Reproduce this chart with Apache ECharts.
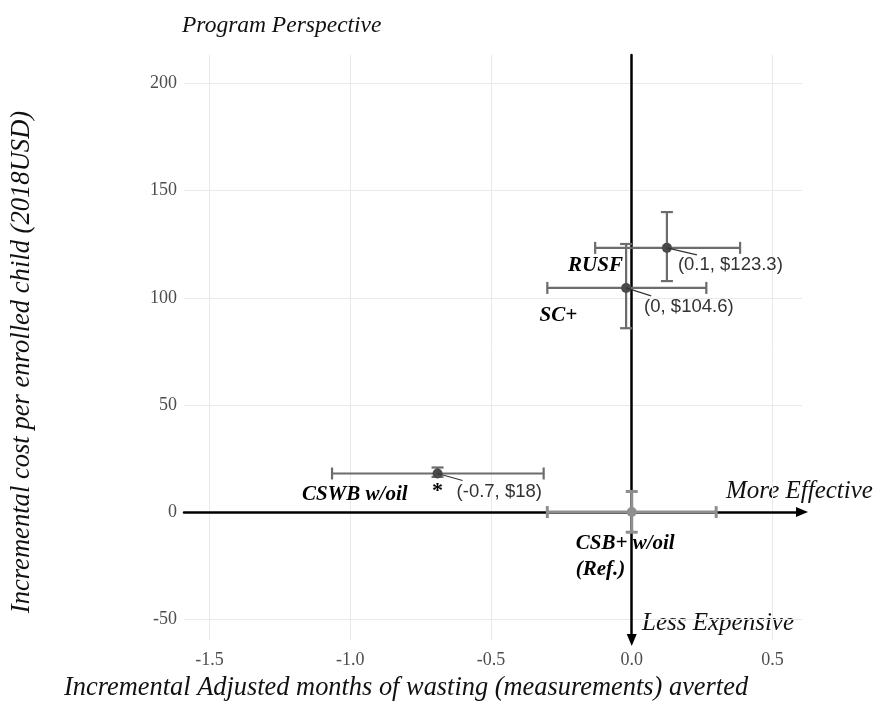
<!DOCTYPE html>
<html><head><meta charset="utf-8">
<script src="https://cdn.jsdelivr.net/npm/echarts@6/dist/echarts.min.js"></script>
<style>html,body{margin:0;padding:0;background:#fff}#c{width:877px;height:707px}</style>
</head><body><div id="c"></div>
<script>
// ---- data ----
const interventions = ['RUSF', 'SC+', 'CSWB w/oil', 'CSB+ w/oil'];
const effect   = [0.125, -0.02, -0.69, 0];
const cost     = [123.3, 104.6, 18, 0];
const effLow   = [-0.13, -0.30, -1.065, -0.30];
const effHigh  = [0.385, 0.265, -0.313, 0.30];
const costLow  = [107.8, 85.8, 16.4, -9.4];
const costHigh = [140.0, 125.1, 20.8, 9.6];
const valueLabels = ['(0.1, $123.3)', '(0, $104.6)', '(-0.7, $18)', ''];
const refSuffix = '(Ref.)';
const xTicks = [-1.5, -1.0, -0.5, 0, 0.5];
const yTicks = [-50, 0, 50, 100, 150, 200];

// ---- styling / layout (pixel offsets relative to each point) ----
const SERIF = '"Liberation Serif", "DejaVu Serif", serif';
const SANS = '"Liberation Sans", Arial, sans-serif';
const labelLayout = [
  { lead: [30, 7], val: [11, 17], name: [-44, 18], align: 'right' },
  { lead: [25, 8], val: [18, 19], name: [-49, 28], align: 'right' },
  { lead: [25, 7], val: [19, 18], name: [-30, 21], align: 'right', star: [0, 18] },
  { lead: null, val: null, name: [-56, 45], align: 'left' }
];

const seriesData = interventions.map((n, i) => [effect[i], cost[i], effLow[i], effHigh[i], costLow[i], costHigh[i]]);

function renderItem(params, api) {
  const i = params.dataIndex;
  const p = api.coord([api.value(0), api.value(1)]);
  const l = api.coord([api.value(2), api.value(1)]);
  const r = api.coord([api.value(3), api.value(1)]);
  const t = api.coord([api.value(0), api.value(5)]);
  const b = api.coord([api.value(0), api.value(4)]);
  const isRef = i === 3;
  const col = isRef ? '#8f8f8f' : '#6c6c6c';
  const lw = isRef ? 3 : 2.2;
  const cap = 6;
  const ls = { stroke: col, lineWidth: lw };
  const seg = (x1, y1, x2, y2, style) => ({ type: 'line', shape: { x1, y1, x2, y2 }, style });
  const ch = [
    seg(l[0], l[1], r[0], r[1], ls),
    seg(l[0], l[1] - cap, l[0], l[1] + cap, ls),
    seg(r[0], r[1] - cap, r[0], r[1] + cap, ls),
    seg(t[0], t[1], b[0], b[1], ls),
    seg(t[0] - cap, t[1], t[0] + cap, t[1], ls),
    seg(b[0] - cap, b[1], b[0] + cap, b[1], ls),
    { type: 'circle', shape: { cx: p[0], cy: p[1], r: 5 }, style: { fill: isRef ? '#8f8f8f' : '#4a4a4a' } }
  ];
  const L = labelLayout[i];
  if (L.lead) {
    ch.push(seg(p[0], p[1], p[0] + L.lead[0], p[1] + L.lead[1], { stroke: '#333', lineWidth: 1.2 }));
  }
  if (L.val) {
    ch.push({ type: 'text', style: { text: valueLabels[i], x: p[0] + L.val[0], y: p[1] + L.val[1],
      font: '18.5px ' + SANS, fill: '#333', textAlign: 'left', textVerticalAlign: 'middle' } });
  }
  ch.push({ type: 'text', style: { text: interventions[i] + (isRef ? '\n' + refSuffix : ''),
    x: p[0] + L.name[0], y: p[1] + L.name[1], font: 'italic bold 21px ' + SERIF, lineHeight: 26,
    fill: '#000', textAlign: L.align, textVerticalAlign: 'middle' } });
  if (L.star) {
    ch.push({ type: 'text', style: { text: '*', x: p[0] + L.star[0], y: p[1] + L.star[1],
      font: 'bold 22px ' + SERIF, fill: '#000', textAlign: 'center', textVerticalAlign: 'middle' } });
  }
  return { type: 'group', children: ch };
}

const XMIN = -1.591, XMAX = 0.605, YMIN = -59.7, YMAX = 213.3;
const chart = echarts.init(document.getElementById('c'), null, { renderer: 'canvas' });
chart.setOption({
  backgroundColor: '#fff',
  animation: false,
  grid: { left: 184, right: 877 - 802, top: 55, bottom: 707 - 640, containLabel: false },
  xAxis: [
    { type: 'value', min: XMIN, max: XMAX,
      axisLine: { show: false, onZero: false },
      axisTick: { show: false, customValues: xTicks },
      axisLabel: { customValues: xTicks, formatter: v => v.toFixed(1), color: '#4d4d4d', fontFamily: SERIF, fontSize: 18, margin: 11 },
      splitLine: { show: true, lineStyle: { color: '#e9e9e9', width: 1 } } },
    { type: 'value', min: XMIN, max: XMAX, position: 'bottom',
      axisLine: { show: true, onZero: true, onZeroAxisIndex: 0, symbol: ['none', 'triangle'], symbolSize: [10, 12], lineStyle: { color: '#000', width: 2.5 } },
      axisTick: { show: false }, axisLabel: { show: false }, splitLine: { show: false } }
  ],
  yAxis: [
    { type: 'value', min: YMIN, max: YMAX,
      axisLine: { show: false, onZero: false },
      axisTick: { show: false, customValues: yTicks },
      axisLabel: { customValues: yTicks, formatter: v => String(v), color: '#4d4d4d', fontFamily: SERIF, fontSize: 18, margin: 7 },
      splitLine: { show: true, lineStyle: { color: '#e9e9e9', width: 1 } } },
    { type: 'value', min: YMIN, max: YMAX, position: 'left',
      axisLine: { show: true, onZero: true, onZeroAxisIndex: 0, symbol: ['triangle', 'none'], symbolSize: [10, 12], lineStyle: { color: '#000', width: 2.5 } },
      axisTick: { show: false }, axisLabel: { show: false }, splitLine: { show: false } }
  ],
  series: [{
    type: 'custom', xAxisIndex: 0, yAxisIndex: 0, renderItem: renderItem,
    data: seriesData, encode: { x: 0, y: 1 }, clip: false, z: 5
  }],
  graphic: [
    { type: 'text', style: { text: 'Program Perspective', x: 182, y: 26, font: 'italic 23.5px ' + SERIF, fill: '#111', textVerticalAlign: 'middle' } },
    { type: 'text', style: { text: 'More Effective', x: 726, y: 491, font: 'italic 25px ' + SERIF, fill: '#111', textVerticalAlign: 'middle' } },
    { type: 'text', style: { text: 'Less Expensive', x: 642, y: 623, font: 'italic 25px ' + SERIF, fill: '#111', textVerticalAlign: 'middle' } },
    { type: 'text', style: { text: 'Incremental Adjusted months of wasting (measurements) averted', x: 64, y: 688, font: 'italic 26.4px ' + SERIF, fill: '#111', textVerticalAlign: 'middle' } },
    { type: 'text', x: 22, y: 362, rotation: Math.PI / 2, style: { text: 'Incremental cost per enrolled child (2018USD)', x: 0, y: 0, font: 'italic 26.6px ' + SERIF, fill: '#111', textAlign: 'center', textVerticalAlign: 'middle' } }
  ]
});
</script></body></html>
